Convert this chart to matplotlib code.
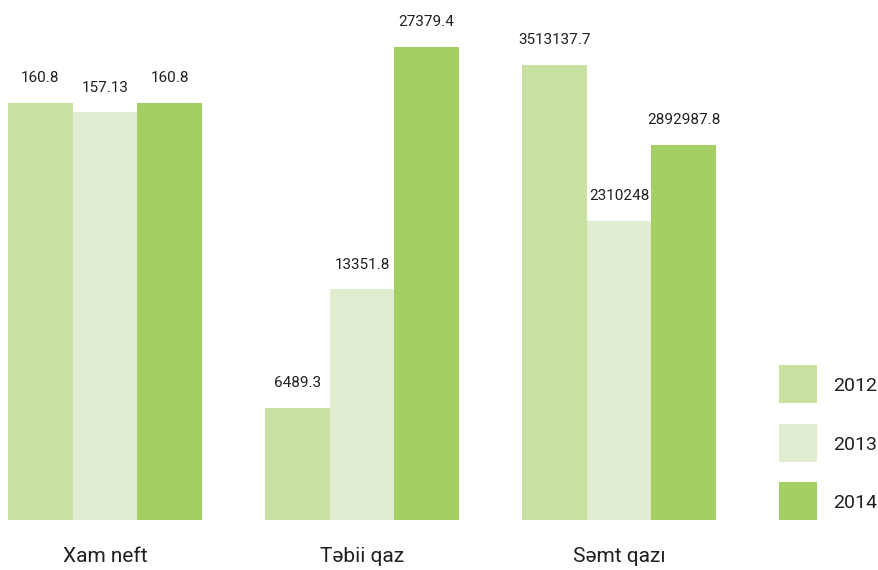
import matplotlib
matplotlib.use('Agg')
import matplotlib.pyplot as plt
from matplotlib.patches import Rectangle

plt.rcParams['font.family'] = ['Roboto', 'DejaVu Sans']

categories = ['Xam neft', 'Təbii qaz', 'Səmt qazı']
years = ['2012', '2013', '2014']
values_2012 = [160.8, 6489.3, 3513137.7]
values_2013 = [157.13, 13351.8, 2310248]
values_2014 = [160.8, 27379.4, 2892987.8]
value_labels = [['160.8', '157.13', '160.8'],
                ['6489.3', '13351.8', '27379.4'],
                ['3513137.7', '2310248', '2892987.8']]

colors = ['#c8e1a0', '#e0edd1', '#a4cf62']

# each group has its own vertical scale in the original
group_ymax = [200.5, 30100, 4015000]

W, H = 879, 570
fig = plt.figure(figsize=(W / 100, H / 100), dpi=100)

base = 520
centers = [105, 362, 619]
bw = 64.6

series = [values_2012, values_2013, values_2014]
for g in range(3):
    ax = fig.add_axes([0, (H - base) / H, 1, base / H])
    ax.set_xlim(0, W)
    ax.set_ylim(0, group_ymax[g])
    ax.axis('off')
    ax.patch.set_alpha(0)
    for i in range(3):
        x = centers[g] + (i - 1) * bw
        v = series[i][g]
        ax.bar(x, v, width=bw, color=colors[i], linewidth=0)
        ax.annotate(value_labels[g][i], (x, v), xytext=(0, 15),
                    textcoords='offset points', ha='center', va='baseline',
                    fontsize=11, color='#231f20')

# overlay in pixel coordinates for labels and legend
ov = fig.add_axes([0, 0, 1, 1])
ov.set_xlim(0, W)
ov.set_ylim(H, 0)
ov.axis('off')
ov.patch.set_alpha(0)

for g, cat in enumerate(categories):
    ov.text(centers[g], 562, cat, ha='center', va='baseline',
            fontsize=15, color='#231f20')

leg_y = [365, 424, 482]
for i, yr in enumerate(years):
    ov.add_patch(Rectangle((779, leg_y[i]), 38, 38, color=colors[i], lw=0))
    ov.text(833, leg_y[i] + 19, yr, ha='left', va='center_baseline',
            fontsize=14, color='#231f20')

fig.savefig('out.png', dpi=100)
